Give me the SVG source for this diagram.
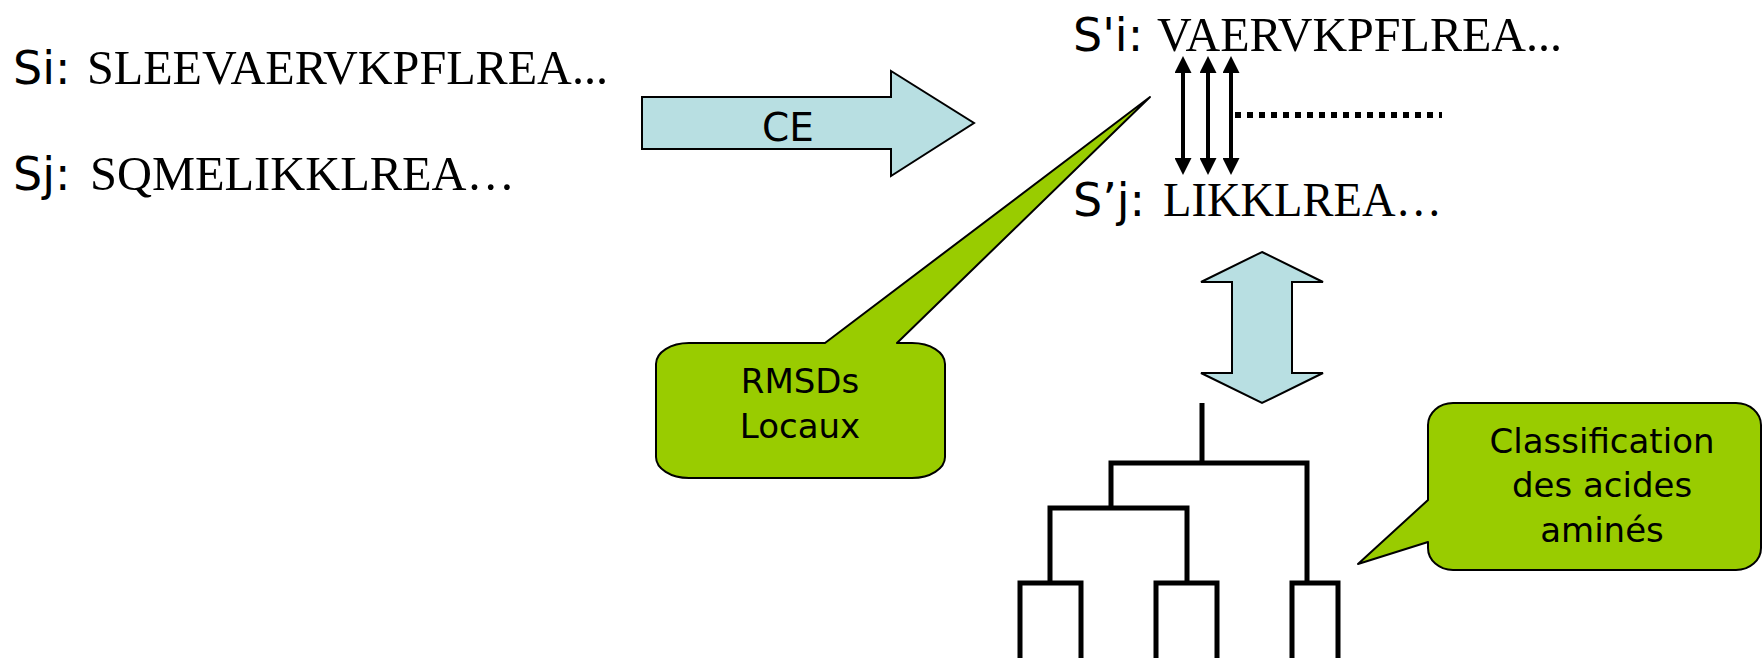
<svg xmlns="http://www.w3.org/2000/svg" width="1764" height="658" viewBox="0 0 1764 658">
  <style>
    .lab { font-family: "DejaVu Sans", sans-serif; font-size: 46px; fill: #000; }
    .seq { font-family: "Liberation Serif", "Times New Roman", serif; font-size: 48px; fill: #000; }
    .cap { font-family: "DejaVu Sans", sans-serif; font-size: 34px; fill: #000; text-anchor: middle; }
    .blue { fill: #b8dfe2; stroke: #000; stroke-width: 2; stroke-linejoin: miter; }
    .green { fill: #99cc00; stroke: #000; stroke-width: 2; stroke-linejoin: round; }
    .tree { fill: none; stroke: #000; stroke-width: 5; stroke-linejoin: miter; stroke-linecap: butt; }
    .dbl { stroke: #000; stroke-width: 4; fill: none; marker-start: url(#head); marker-end: url(#head); }
  </style>
  <defs>
    <marker id="head" viewBox="0 -8.5 17 17" refX="7" refY="0" markerWidth="17" markerHeight="17" markerUnits="userSpaceOnUse" orient="auto-start-reverse">
      <path d="M0,-8.5 L17,0 L0,8.5 Z" fill="#000"/>
    </marker>
  </defs>

  <g id="seq-i">
    <text class="lab" x="13" y="84">Si:</text>
    <text class="seq" x="87" y="84" textLength="521" lengthAdjust="spacingAndGlyphs">SLEEVAERVKPFLREA...</text>
  </g>
  <g id="seq-j">
    <text class="lab" x="13" y="190">Sj:</text>
    <text class="seq" x="90" y="190" textLength="425" lengthAdjust="spacingAndGlyphs">SQMELIKKLREA…</text>
  </g>

  <g id="ce-arrow">
    <polygon class="blue" points="642,97 891,97 891,71 974,123 891,176 891,149 642,149"/>
    <text class="cap" x="788" y="141" style="font-size:39px">CE</text>
  </g>

  <g id="aligned-i">
    <text class="lab" x="1073" y="51">S'i:</text>
    <text class="seq" x="1157" y="51" textLength="405" lengthAdjust="spacingAndGlyphs">VAERVKPFLREA...</text>
  </g>
  <g id="aligned-j">
    <text class="lab" x="1073" y="216">S’j:</text>
    <text class="seq" x="1163" y="216" textLength="279" lengthAdjust="spacingAndGlyphs">LIKKLREA…</text>
  </g>

  <g id="connectors">
    <line class="dbl" x1="1183" y1="66" x2="1183" y2="165"/>
    <line class="dbl" x1="1208" y1="66" x2="1208" y2="165"/>
    <line class="dbl" x1="1231" y1="66" x2="1231" y2="165"/>
    <line x1="1235" y1="115" x2="1442" y2="115" stroke="#000" stroke-width="6" stroke-dasharray="6 6"/>
  </g>

  <g id="callout-rmsd">
    <path class="green" d="M825,343 L1150,97 L897,343 H912 A33,21 0 0 1 945,364 V457 A33,21 0 0 1 912,478 H689 A33,21 0 0 1 656,457 V364 A33,21 0 0 1 689,343 Z"/>
    <text class="cap" x="800" y="393">RMSDs</text>
    <text class="cap" x="800" y="438">Locaux</text>
  </g>

  <g id="double-arrow">
    <polygon class="blue" points="1262,252 1323,282 1292,282 1292,373 1323,373 1262,403 1201,373 1232,373 1232,282 1201,282"/>
  </g>

  <g id="tree">
    <path class="tree" d="M1202,403 V463 M1111,508 V463 H1307 V583 M1050,583 V508 H1187 V583 M1020,658 V583 H1081 V658 M1156,658 V583 H1217 V658 M1292,658 V583 H1338 V658"/>
  </g>

  <g id="callout-classif">
    <path class="green" d="M1453,403 H1736 A25,22 0 0 1 1761,425 V548 A25,22 0 0 1 1736,570 H1453 A25,22 0 0 1 1428,548 V542 L1358,564 L1428,500 V425 A25,22 0 0 1 1453,403 Z"/>
    <text class="cap" x="1602" y="453">Classification</text>
    <text class="cap" x="1602" y="497">des acides</text>
    <text class="cap" x="1602" y="542">aminés</text>
  </g>
</svg>
